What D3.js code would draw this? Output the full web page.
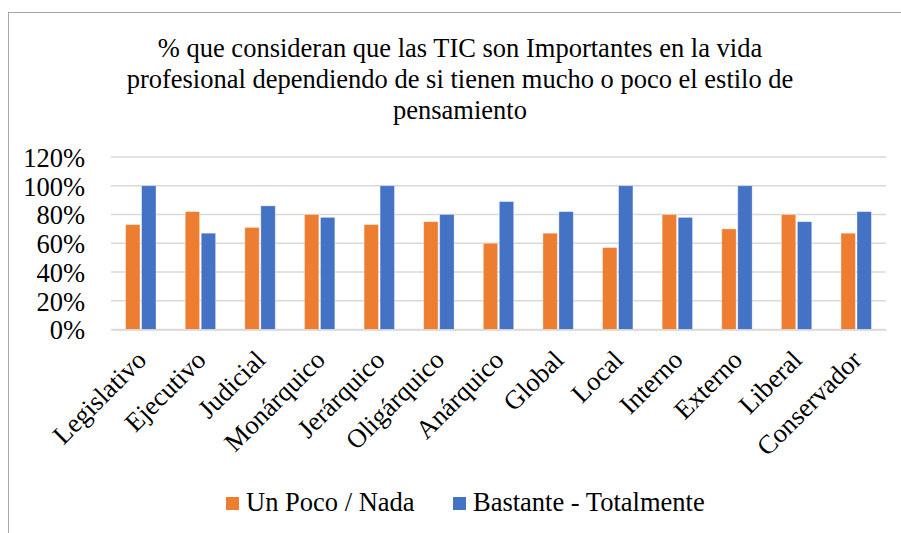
<!DOCTYPE html>
<html>
<head>
<meta charset="utf-8">
<script src="https://cdn.jsdelivr.net/npm/d3@7"></script>
<style>
  html, body { margin: 0; padding: 0; background: #fff; }
  svg { display: block; font-family: "Liberation Serif", "Times New Roman", serif; }
</style>
</head>
<body>
<svg id="chart" width="901" height="533"></svg>
<script>
const categories = ["Legislativo", "Ejecutivo", "Judicial", "Monárquico", "Jerárquico", "Oligárquico", "Anárquico", "Global", "Local", "Interno", "Externo", "Liberal", "Conservador"];
const seriesNames = ["Un Poco / Nada", "Bastante - Totalmente"];
const unPocoNada = [0.73, 0.82, 0.71, 0.80, 0.73, 0.75, 0.60, 0.67, 0.57, 0.80, 0.70, 0.80, 0.67];
const bastanteTotalmente = [1.00, 0.67, 0.86, 0.78, 1.00, 0.80, 0.89, 0.82, 1.00, 0.78, 1.00, 0.75, 0.82];
const yTicks = [0, 0.2, 0.4, 0.6, 0.8, 1.0, 1.2];
const titleLines = ["% que consideran que las TIC son Importantes en la vida", "profesional dependiendo de si tienen mucho o poco el estilo de", "pensamiento"];
const colors = ["#ED7D31", "#4472C4"];

const FONT = "'Liberation Serif', 'Times New Roman', serif";
const FS = 26.5;
const svg = d3.select("#chart");

// outer frame
svg.append("rect")
  .attr("x", 8.5).attr("y", 12.5)
  .attr("width", 920).attr("height", 560)
  .attr("fill", "none").attr("stroke", "#a6a6a6").attr("stroke-width", 1);

// title
svg.append("g").selectAll("text").data(titleLines).join("text")
  .attr("x", 460).attr("y", (d, i) => 57 + i * 31)
  .attr("text-anchor", "middle").attr("font-size", FS).attr("font-family", FONT).attr("fill", "#000")
  .text(d => d);

const plotLeft = 111, plotRight = 886, plotTop = 157, plotBottom = 329.5;

const x0 = d3.scaleBand().domain(categories).range([plotLeft, plotRight]).paddingInner(0.49).paddingOuter(0.245);
const x1 = d3.scaleBand().domain(seriesNames).range([0, x0.bandwidth()]).paddingInner(0.1);
const y = d3.scaleLinear().domain([0, 1.2]).range([plotBottom, plotTop]);

// gridlines
svg.append("g").selectAll("line").data(yTicks).join("line")
  .attr("x1", plotLeft).attr("x2", plotRight)
  .attr("y1", d => y(d)).attr("y2", d => y(d))
  .attr("stroke", "#d9d9d9").attr("stroke-width", 1.5);

// y axis labels
const yAxis = d3.axisLeft(y).tickValues(yTicks).tickFormat(d3.format(".0%")).tickSize(0).tickPadding(0);
const yg = svg.append("g").attr("transform", `translate(85,0)`).call(yAxis);
yg.select(".domain").remove();
yg.selectAll("text").attr("font-size", FS).attr("font-family", FONT).attr("fill", "#000").attr("dy", "0.35em");

// bars
const data = categories.map((c, i) => ({ cat: c, vals: [unPocoNada[i], bastanteTotalmente[i]] }));
const groups = svg.append("g").selectAll("g").data(data).join("g")
  .attr("transform", d => `translate(${x0(d.cat)},0)`);
groups.selectAll("rect").data(d => d.vals.map((v, k) => ({ s: seriesNames[k], v, k })))
  .join("rect")
  .attr("x", d => x1(d.s))
  .attr("width", x1.bandwidth())
  .attr("y", d => y(d.v))
  .attr("height", d => y(0) - y(d.v))
  .attr("fill", d => colors[d.k])
  .attr("stroke", "#fff").attr("stroke-opacity", 0.45).attr("stroke-width", 0.8);

// x axis
const xAxis = d3.axisBottom(x0).tickSize(0).tickPadding(0);
const xg = svg.append("g").attr("transform", `translate(0,${plotBottom})`).call(xAxis);
xg.select(".domain").attr("stroke", "#d9d9d9").attr("stroke-width", 1.5);
xg.selectAll("text")
  .attr("font-size", FS).attr("font-family", FONT).attr("fill", "#000")
  .attr("text-anchor", "end")
  .attr("dy", null).attr("y", 0)
  .attr("transform", "translate(7,32) rotate(-45)");

// legend
const legendItems = [{ name: seriesNames[0], x: 226 }, { name: seriesNames[1], x: 453 }];
const lg = svg.append("g").selectAll("g").data(legendItems).join("g")
  .attr("transform", d => `translate(${d.x},497)`);
lg.append("rect").attr("width", 13).attr("height", 13).attr("fill", (d, i) => colors[i]);
lg.append("text").attr("x", 20).attr("y", 14).attr("font-size", FS).attr("font-family", FONT).attr("fill", "#000").text(d => d.name);
</script>
</body>
</html>
